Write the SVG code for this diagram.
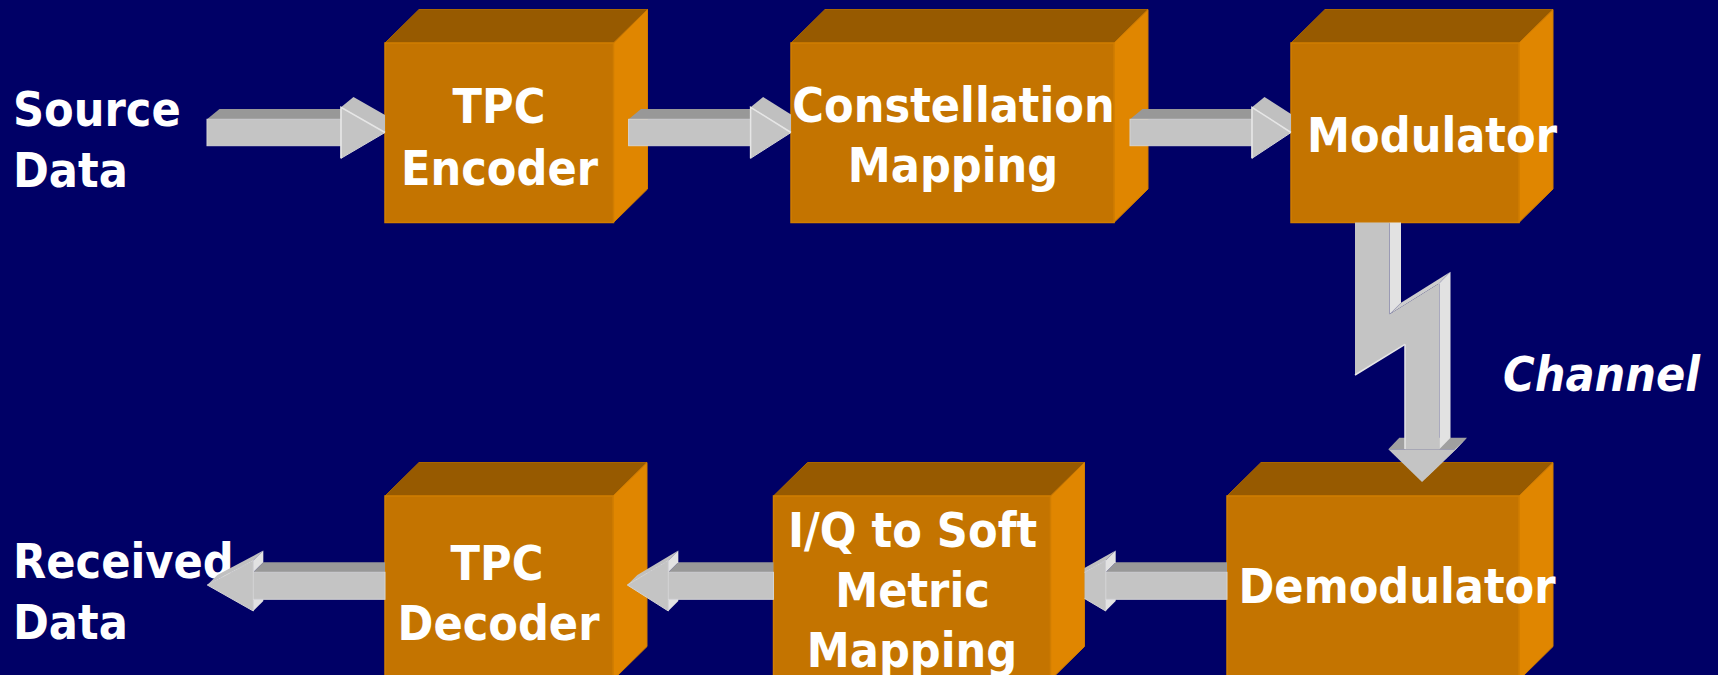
<svg xmlns="http://www.w3.org/2000/svg" width="1718" height="675" viewBox="0 0 1718 675">
  <defs>
    <style>
      .bg { fill: #000066; }
      .top { fill: #975a00; stroke: #a86500; stroke-width: 1; }
      .side { fill: #e08600; stroke: #d07c00; stroke-width: 1; }
      .front { fill: #c47400; stroke: #d07d00; stroke-width: 1.5; }
      .lbl { font-family: "DejaVu Sans Condensed", "DejaVu Sans", sans-serif; font-stretch: condensed; font-weight: bold; font-size: 48px; fill: #ffffff; }
      .mid { text-anchor: middle; }
      .ital { font-style: italic; }
      .af { fill: #c4c4c4; stroke: #d4d4d4; stroke-width: 1; }
      .at { fill: #989898; }
      .ah { fill: #c0c0c0; }
      .al { fill: #e2e2e2; }
      .edge { fill: none; stroke: #e6e6e6; stroke-width: 1.5; }
    </style>
    <clipPath id="clipDemodArrow">
      <rect x="1084.5" y="500" width="200" height="150"/>
    </clipPath>
  </defs>

  <rect class="bg" x="0" y="0" width="1718" height="675"/>

  <!-- free-standing labels -->
  <g id="source-data">
    <text class="lbl" x="13" y="126">Source</text>
    <text class="lbl" x="13" y="187">Data</text>
  </g>
  <g id="received-data">
    <text class="lbl" x="13" y="578">Received</text>
    <text class="lbl" x="13" y="639">Data</text>
  </g>
  <g id="channel">
    <text class="lbl ital" x="1503" y="391">Channel</text>
  </g>

  <!-- transmit chain -->
  <g id="tpc-encoder">
    <polygon class="top" points="385,43 419,9.5 647.5,9.5 613.5,43"/>
    <polygon class="side" points="613.5,43 647.5,9.5 647.5,189 613.5,222.5"/>
    <rect class="front" x="385" y="43" width="228.5" height="179.5"/>
    <text class="lbl mid" x="499" y="123">TPC</text>
    <text class="lbl mid" x="499.5" y="185">Encoder</text>
  </g>
  <g id="constellation-mapping">
    <polygon class="top" points="791,43 825,9.5 1148,9.5 1114,43"/>
    <polygon class="side" points="1114,43 1148,9.5 1148,189 1114,222.5"/>
    <rect class="front" x="791" y="43" width="323" height="179.5"/>
    <text class="lbl mid" x="953.5" y="122">Constellation</text>
    <text class="lbl mid" x="953" y="182">Mapping</text>
  </g>
  <g id="modulator">
    <polygon class="top" points="1291,43 1325,9.5 1553,9.5 1519,43"/>
    <polygon class="side" points="1519,43 1553,9.5 1553,189 1519,222.5"/>
    <rect class="front" x="1291" y="43" width="228" height="179.5"/>
    <text class="lbl mid" x="1432" y="152">Modulator</text>
  </g>

  <!-- receive chain -->
  <g id="demodulator">
    <polygon class="top" points="1227,496 1261,462.5 1553,462.5 1519,496"/>
    <polygon class="side" points="1519,496 1553,462.5 1553,646.5 1519,680"/>
    <rect class="front" x="1227" y="496" width="292" height="184"/>
    <text class="lbl mid" x="1397" y="603">Demodulator</text>
  </g>
  <g id="iq-soft-metric-mapping">
    <polygon class="top" points="773.5,496 807.5,462.5 1084.5,462.5 1050.5,496"/>
    <polygon class="side" points="1050.5,496 1084.5,462.5 1084.5,646.5 1050.5,680"/>
    <rect class="front" x="773.5" y="496" width="277" height="184"/>
    <text class="lbl mid" x="912.5" y="547">I/Q to Soft</text>
    <text class="lbl mid" x="912.5" y="607">Metric</text>
    <text class="lbl mid" x="912" y="667">Mapping</text>
  </g>
  <g id="tpc-decoder">
    <polygon class="top" points="385,496 419,462.5 647,462.5 613,496"/>
    <polygon class="side" points="613,496 647,462.5 647,646.5 613,680"/>
    <rect class="front" x="385" y="496" width="228" height="184"/>
    <text class="lbl mid" x="497" y="580">TPC</text>
    <text class="lbl mid" x="498.5" y="640">Decoder</text>
  </g>

  <!-- block arrows -->
  <g id="connectors">
    <!-- Source Data -> TPC Encoder -->
    <g>
      <polygon class="at" points="207,119.3 219.5,109 353.5,109 341,119.3"/>
      <polygon class="ah" points="341,107.3 353.5,97 385,115 385,132.5"/>
      <rect class="af" x="207" y="119.3" width="134" height="26.4"/>
      <polygon class="af" points="341,107.3 385,132.5 341,158.3"/>
      <polyline class="edge" points="341,158.3 341,107.3 385,132.5"/>
    </g>
    <!-- TPC Encoder -> Constellation Mapping -->
    <g>
      <polygon class="at" points="628.6,119.3 641,109 763,109 750.6,119.3"/>
      <polygon class="ah" points="750.6,107.3 763.1,97 791,114.4 791,132.5"/>
      <rect class="af" x="628.6" y="119.3" width="122" height="26.4"/>
      <polygon class="af" points="750.6,107.3 791,132.5 750.6,158.3"/>
      <polyline class="edge" points="750.6,158.3 750.6,107.3 791,132.5"/>
    </g>
    <!-- Constellation Mapping -> Modulator -->
    <g>
      <polygon class="at" points="1130,119.3 1142.5,109 1264.5,109 1252,119.3"/>
      <polygon class="ah" points="1252,107.3 1264.5,97 1291,114.1 1291,132.5"/>
      <rect class="af" x="1130" y="119.3" width="122" height="26.4"/>
      <polygon class="af" points="1252,107.3 1291,132.5 1252,158.3"/>
      <polyline class="edge" points="1252,158.3 1252,107.3 1291,132.5"/>
    </g>

    <!-- Modulator -> Demodulator (channel bolt) -->
    <g>
      <polygon fill="#a0a0a0" points="1388.3,449.3 1399.3,437.8 1467,437.8 1456,449.3"/>
      <polygon class="al" points="1389.5,222.5 1401,222.5 1401,302.8 1389.5,314.3"/>
      <polygon fill="#cdcdcd" points="1389.5,314.3 1401,302.8 1450.5,271.8 1439.3,283.3"/>
      <polygon class="al" points="1439.3,283.3 1450.5,271.8 1450.5,437.8 1439.3,449.3"/>
      <polygon fill="#c4c4c4" points="1355,222.5 1389.5,222.5 1389.5,314.3 1439.3,283.3 1439.3,449.3 1405,449.3 1405,344.3 1355,375"/>
      <polygon class="al" points="1456,449.3 1467,437.8 1433,470.5 1422,482"/>
      <polygon fill="#c4c4c4" points="1388.3,449.3 1456,449.3 1422,482"/>
      <line class="edge" x1="1355" y1="375" x2="1405" y2="344.3"/>
      <line class="edge" x1="1405" y1="344.5" x2="1405" y2="449"/>
    </g>

    <!-- Demodulator -> I/Q to Soft Metric Mapping -->
    <g clip-path="url(#clipDemodArrow)">
      <polygon class="ah" points="1061.7,585 1105.7,560.5 1115.7,550.5 1071.7,575"/>
      <polygon class="at" points="1105.7,572.3 1115.7,562.3 1227,562.3 1227,572.3"/>
      <rect class="af" x="1105.7" y="572.3" width="121.3" height="27"/>
      <polygon class="af" points="1061.7,585 1105.7,560.5 1105.7,611"/>
      <polygon class="al" points="1105.7,560.5 1115.7,550.5 1115.7,562.3 1105.7,572.3"/>
      <polygon class="al" points="1105.7,599.3 1115.7,599.3 1115.7,601 1105.7,611"/>
    </g>
    <!-- I/Q to Soft Metric Mapping -> TPC Decoder -->
    <g>
      <polygon class="ah" points="627.3,585 668.3,560.5 678.3,550.5 637.3,575"/>
      <polygon class="at" points="668.3,572.3 678.3,562.3 773.5,562.3 773.5,572.3"/>
      <rect class="af" x="668.3" y="572.3" width="105.2" height="27"/>
      <polygon class="af" points="627.3,585 668.3,560.5 668.3,611"/>
      <polygon class="al" points="668.3,560.5 678.3,550.5 678.3,562.3 668.3,572.3"/>
      <polygon class="al" points="668.3,599.3 678.3,599.3 678.3,601 668.3,611"/>
    </g>
    <!-- TPC Decoder -> Received Data -->
    <g>
      <polygon class="ah" points="207.3,585 253.3,560.5 263.3,550.5 217.3,575"/>
      <polygon class="at" points="253.3,572.3 263.3,562.3 385,562.3 385,572.3"/>
      <rect class="af" x="253.3" y="572.3" width="131.7" height="27"/>
      <polygon class="af" points="207.3,585 253.3,560.5 253.3,611"/>
      <polygon class="al" points="253.3,560.5 263.3,550.5 263.3,562.3 253.3,572.3"/>
      <polygon class="al" points="253.3,599.3 263.3,599.3 263.3,601 253.3,611"/>
    </g>
  </g>
</svg>
